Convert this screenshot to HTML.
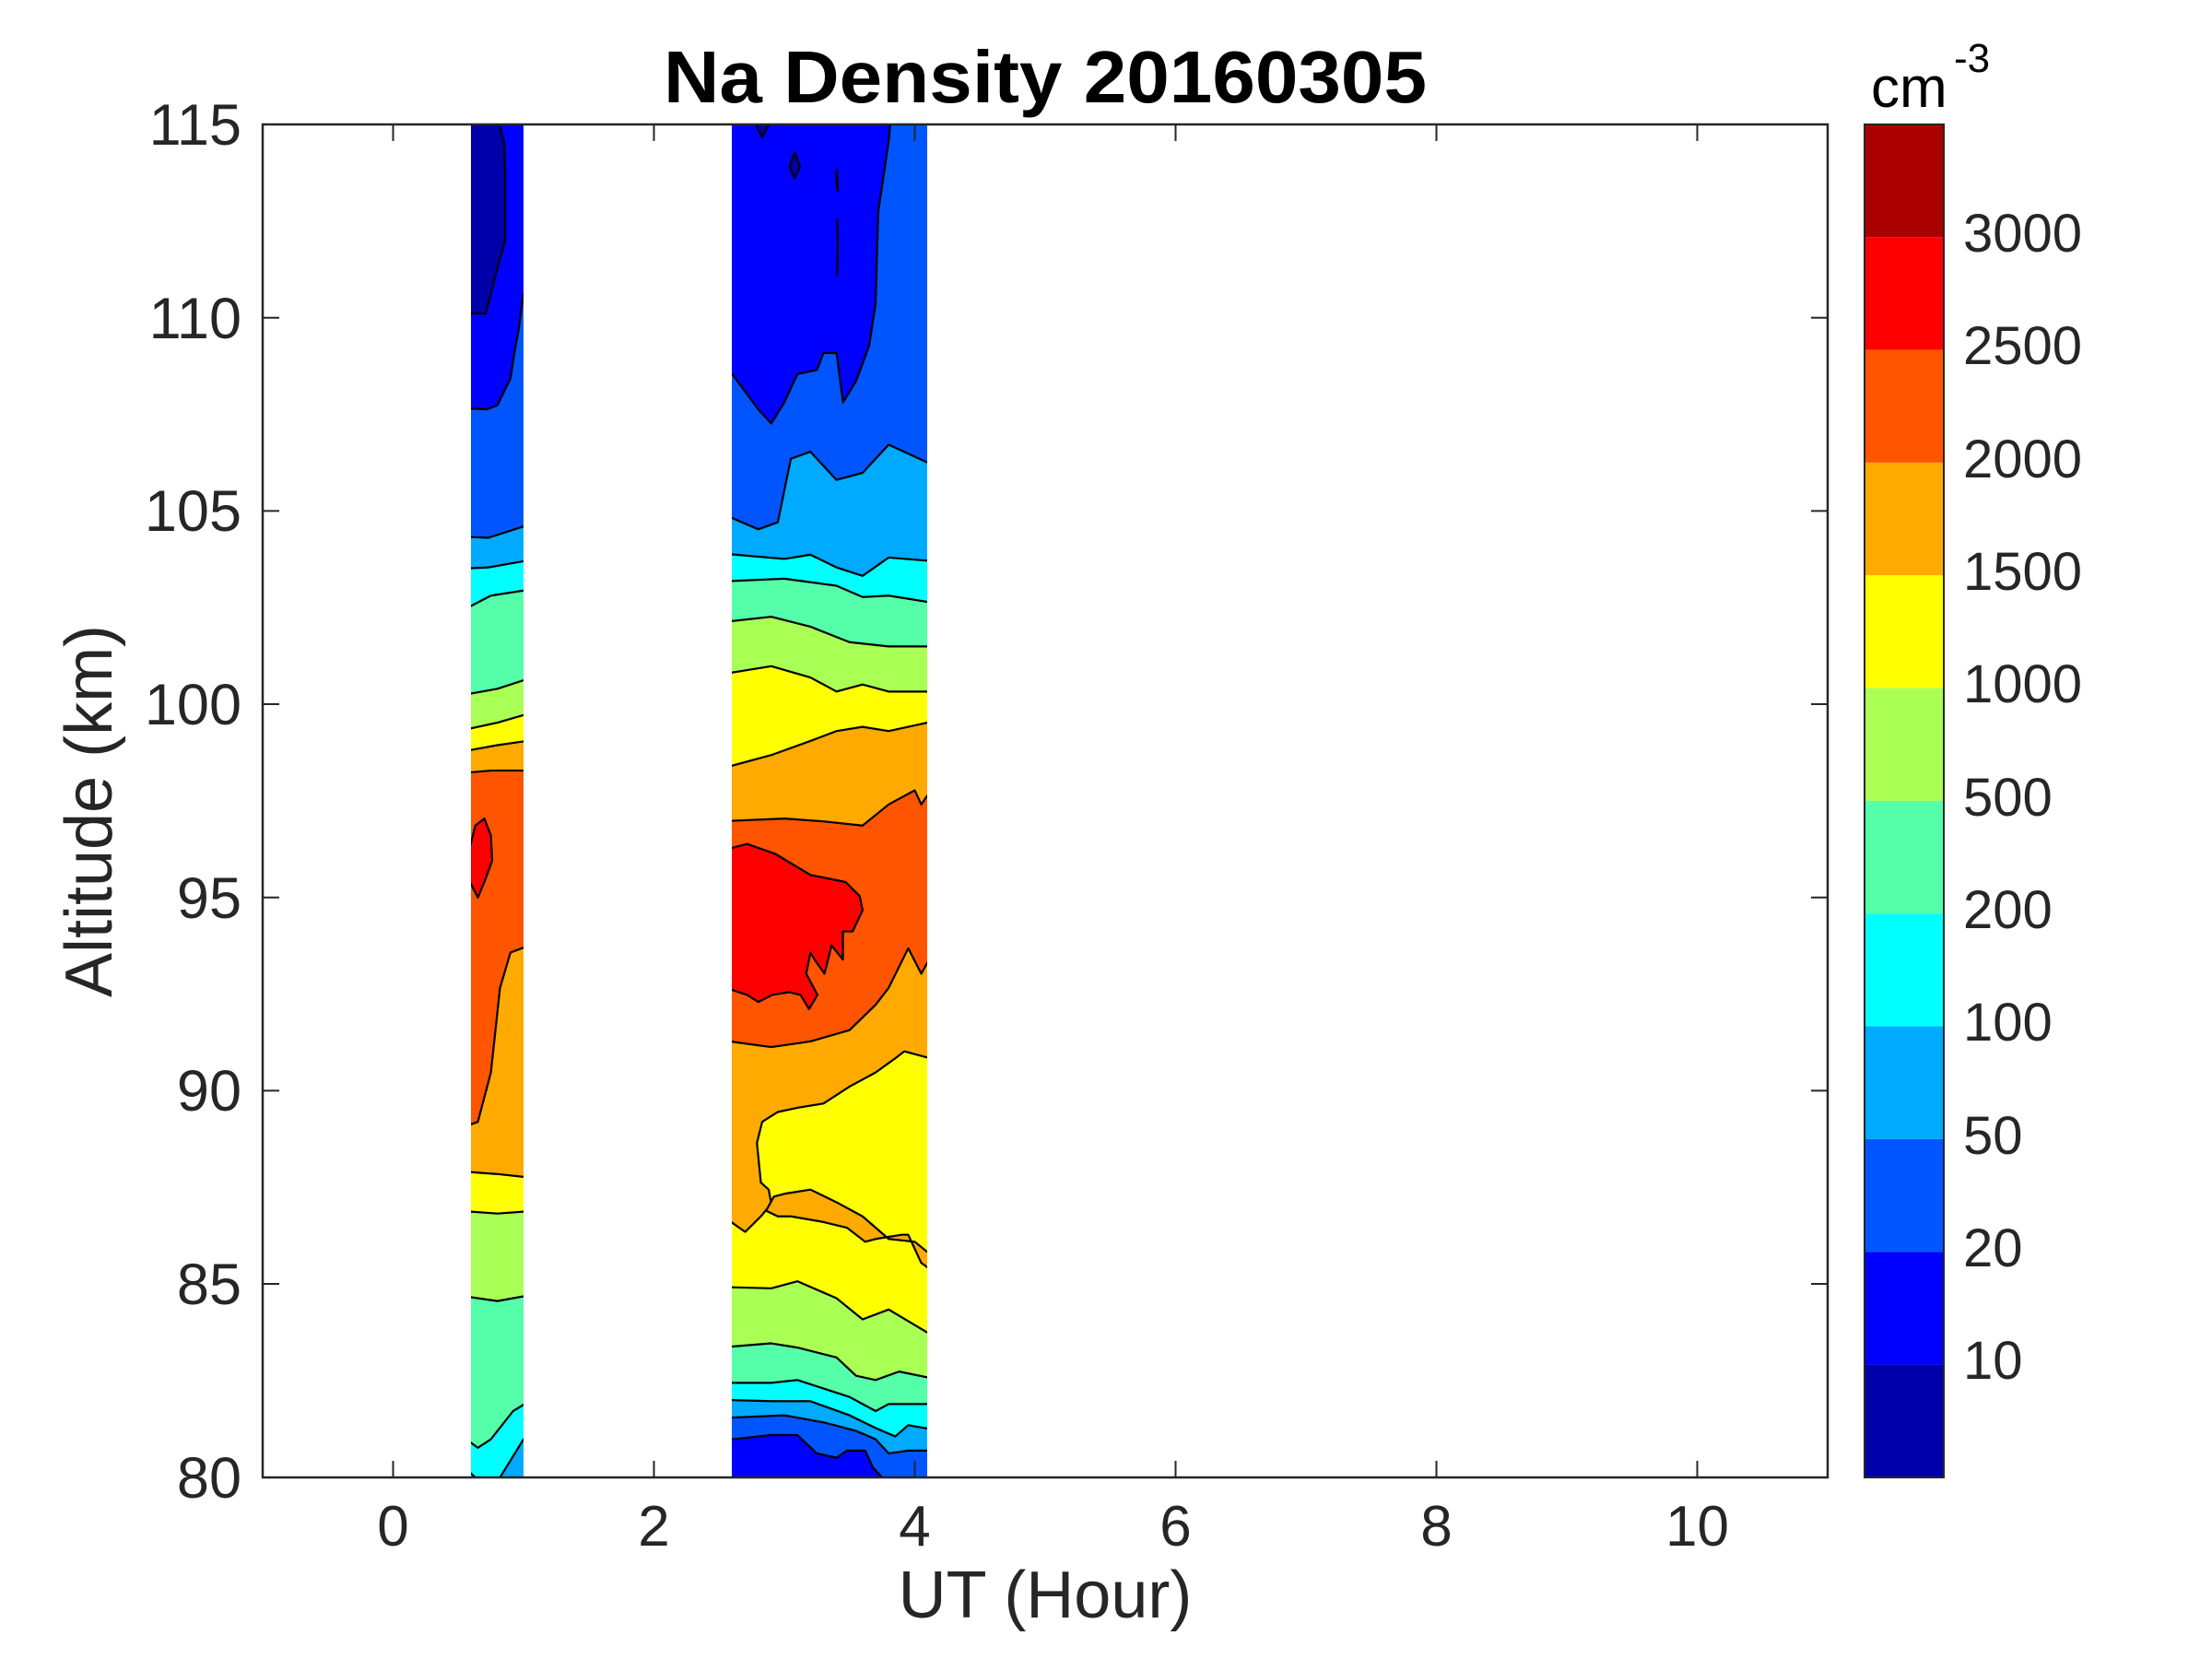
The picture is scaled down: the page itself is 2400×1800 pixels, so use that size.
<!DOCTYPE html>
<html><head><meta charset="utf-8"><style>
html,body{margin:0;padding:0;background:#fff;}
svg{display:block;}
text{font-family:"Liberation Sans",Arial,sans-serif;fill:#262626;}
</style></head><body>
<svg width="2400" height="1800" viewBox="0 0 2400 1800" xmlns="http://www.w3.org/2000/svg">
<defs>
<clipPath id="c1"><rect x="0.597" y="88" width="0.403" height="959"/></clipPath>
<clipPath id="c2"><rect x="2.597" y="88" width="1.498" height="959"/></clipPath>
</defs>
<g transform="matrix(141.5 0 0 1.5307 426.5 0.3)" stroke="#000" stroke-width="2.2" fill="none" stroke-linejoin="round">
<g clip-path="url(#c1)">
<rect x="0.5" y="80" width="0.6" height="1000" fill="#0000AA" stroke="none"/>
<path d="M0.5,222 L0.71,222 L0.8,190 L0.86,170 L0.86,120 L0.85,100 L0.79,80 L1.1,80 L1.1,1060 L0.5,1060Z" fill="#0000FF" stroke="none"/>
<path d="M0.5,222 L0.71,222 L0.8,190 L0.86,170 L0.86,120 L0.85,100 L0.79,80" vector-effect="non-scaling-stroke"/>
<path d="M0.5,289 L0.72,290 L0.8,287 L0.9,268 L0.93,250 L0.96,235 L0.99,215 L1.0,208 L1.1,205 L1.1,1060 L0.5,1060Z" fill="#0055FF" stroke="none"/>
<path d="M0.5,289 L0.72,290 L0.8,287 L0.9,268 L0.93,250 L0.96,235 L0.99,215 L1.0,208" vector-effect="non-scaling-stroke"/>
<path d="M0.5,380 L0.73,381 L1.1,370 L1.1,1060 L0.5,1060Z" fill="#00AAFF" vector-effect="non-scaling-stroke"/>
<path d="M0.5,403 L0.73,402 L1.1,396 L1.1,1060 L0.5,1060Z" fill="#00FFFF" vector-effect="non-scaling-stroke"/>
<path d="M0.5,434 L0.75,422 L1.1,417 L1.1,1060 L0.5,1060Z" fill="#55FFAA" vector-effect="non-scaling-stroke"/>
<path d="M0.5,493 L0.8,488 L1.1,479 L1.1,1060 L0.5,1060Z" fill="#AAFF55" vector-effect="non-scaling-stroke"/>
<path d="M0.5,518 L0.8,512 L1.1,504 L1.1,1060 L0.5,1060Z" fill="#FFFF00" vector-effect="non-scaling-stroke"/>
<path d="M0.5,533 L0.8,528 L1.1,524 L1.1,1060 L0.5,1060Z" fill="#FFAA00" vector-effect="non-scaling-stroke"/>
<path d="M0.5,548 L0.75,546 L1.1,546 L1.1,1060 L0.5,1060Z" fill="#FF5500" vector-effect="non-scaling-stroke"/>
<path d="M0.59,600 L0.63,585 L0.7,580 L0.75,592 L0.76,610 L0.7,625 L0.65,636 L0.59,625Z" fill="#FF0000" vector-effect="non-scaling-stroke"/>
<path d="M0.5,800 L0.65,795 L0.75,760 L0.82,700 L0.9,675 L1.1,668 L1.1,1060 L0.5,1060Z" fill="#FFAA00" vector-effect="non-scaling-stroke"/>
<path d="M0.5,830 L0.8,832 L1.1,835 L1.1,1060 L0.5,1060Z" fill="#FFFF00" vector-effect="non-scaling-stroke"/>
<path d="M0.5,858 L0.8,860 L1.1,858 L1.1,1060 L0.5,1060Z" fill="#AAFF55" vector-effect="non-scaling-stroke"/>
<path d="M0.5,918 L0.8,922 L1.1,917 L1.1,1060 L0.5,1060Z" fill="#55FFAA" vector-effect="non-scaling-stroke"/>
<path d="M0.5,1016 L0.65,1026 L0.75,1020 L0.92,1000 L1.1,990 L1.1,1060 L0.5,1060Z" fill="#00FFFF" vector-effect="non-scaling-stroke"/>
<path d="M0.82,1047 L1.0,1020 L1.1,1015 L1.1,1060Z" fill="#00AAFF" vector-effect="non-scaling-stroke"/>
<path d="M0.5,1036 L0.63,1047 L0.5,1060Z" fill="#00AAFF" vector-effect="non-scaling-stroke"/>
</g>
<g clip-path="url(#c2)">
<rect x="2.5" y="80" width="1.7" height="1000" fill="#0000FF" stroke="none"/>
<path d="M2.78,88 L2.83,97 L2.88,88Z" fill="#0000AA" vector-effect="non-scaling-stroke"/>
<path d="M3.08,108 L3.12,118 L3.08,126 L3.04,118Z" fill="#0000AA" vector-effect="non-scaling-stroke"/>
<path d="M3.40,120 L3.41,135 L3.40,130Z M3.405,155 L3.41,175 L3.405,195" vector-effect="non-scaling-stroke"/>
<path d="M2.5,265 L2.6,265 L2.8,290 L2.9,300 L3.0,285 L3.1,265 L3.25,262 L3.3,250 L3.4,250 L3.45,285 L3.55,270 L3.65,245 L3.7,215 L3.72,150 L3.8,100 L3.82,80 L4.2,80 L4.2,1060 L2.5,1060Z" fill="#0055FF" stroke="none"/>
<path d="M2.6,265 L2.8,290 L2.9,300 L3.0,285 L3.1,265 L3.25,262 L3.3,250 L3.4,250 L3.45,285 L3.55,270 L3.65,245 L3.7,215 L3.72,150 L3.8,100 L3.82,80" vector-effect="non-scaling-stroke"/>
<path d="M2.5,367 L2.6,367 L2.8,375 L2.95,370 L3.05,325 L3.2,320 L3.4,340 L3.6,335 L3.8,315 L4.2,332 L4.2,1060 L2.5,1060Z" fill="#00AAFF" vector-effect="non-scaling-stroke"/>
<path d="M2.5,392 L3.0,396 L3.2,393 L3.4,402 L3.6,408 L3.8,395 L4.2,398 L4.2,1060 L2.5,1060Z" fill="#00FFFF" vector-effect="non-scaling-stroke"/>
<path d="M2.5,412 L3.0,410 L3.4,415 L3.6,423 L3.8,422 L4.2,428 L4.2,1060 L2.5,1060Z" fill="#55FFAA" vector-effect="non-scaling-stroke"/>
<path d="M2.5,441 L2.9,437 L3.2,444 L3.5,455 L3.8,458 L4.2,458 L4.2,1060 L2.5,1060Z" fill="#AAFF55" vector-effect="non-scaling-stroke"/>
<path d="M2.5,478 L2.9,472 L3.2,480 L3.4,490 L3.6,485 L3.8,490 L4.2,490 L4.2,1060 L2.5,1060Z" fill="#FFFF00" vector-effect="non-scaling-stroke"/>
<path d="M2.5,545 L2.9,535 L3.2,525 L3.4,518 L3.6,515 L3.8,518 L4.2,510 L4.2,1060 L2.5,1060Z" fill="#FFAA00" vector-effect="non-scaling-stroke"/>
<path d="M2.5,582 L3.0,580 L3.3,582 L3.6,585 L3.8,570 L4.0,560 L4.05,570 L4.2,550 L4.2,1060 L2.5,1060Z" fill="#FF5500" vector-effect="non-scaling-stroke"/>
<path d="M2.55,602 L2.714,598 L2.93,605 L3.2,620 L3.47,625 L3.578,635 L3.6,645 L3.524,660 L3.449,660 L3.449,680 L3.362,670 L3.308,690 L3.232,680 L3.2,675 L3.168,690 L3.254,705 L3.189,715 L3.124,705 L3.038,703 L2.908,705 L2.8,710 L2.714,705 L2.55,700Z" fill="#FF0000" vector-effect="non-scaling-stroke"/>
<path d="M2.5,737 L2.9,742 L3.2,738 L3.5,730 L3.7,712 L3.8,700 L3.95,672 L4.05,690 L4.2,665 L4.2,1060 L2.5,1060Z" fill="#FFAA00" vector-effect="non-scaling-stroke"/>
<path d="M2.5,860 L2.7,873 L2.82,862 L2.9,853 L2.88,843 L2.82,838 L2.79,810 L2.83,795 L2.95,788 L3.1,785 L3.3,782 L3.5,770 L3.7,760 L3.85,750 L3.92,745 L4.2,752 L4.2,1060 L2.5,1060Z" fill="#FFFF00" vector-effect="non-scaling-stroke"/>
<path d="M2.86,858 L2.92,848 L3.0,846 L3.2,843 L3.4,852 L3.6,862 L3.8,878 L4.0,880 L4.2,895 L4.2,905 L4.05,895 L3.95,875 L3.9,875 L3.7,878 L3.62,880 L3.48,870 L3.3,866 L3.05,862 L2.95,862Z" fill="#FFAA00" vector-effect="non-scaling-stroke"/>
<path d="M2.5,912 L2.9,913 L3.1,908 L3.4,920 L3.6,935 L3.8,928 L4.2,950 L4.2,1060 L2.5,1060Z" fill="#AAFF55" vector-effect="non-scaling-stroke"/>
<path d="M2.5,955 L2.9,952 L3.1,955 L3.4,962 L3.55,975 L3.7,978 L3.88,972 L4.2,978 L4.2,1060 L2.5,1060Z" fill="#55FFAA" vector-effect="non-scaling-stroke"/>
<path d="M2.5,980 L2.9,980 L3.1,978 L3.5,990 L3.7,1000 L3.8,995 L4.2,995 L4.2,1060 L2.5,1060Z" fill="#00FFFF" vector-effect="non-scaling-stroke"/>
<path d="M2.5,992 L2.9,993 L3.2,993 L3.5,1003 L3.7,1012 L3.85,1018 L3.95,1010 L4.2,1014 L4.2,1060 L2.5,1060Z" fill="#00AAFF" vector-effect="non-scaling-stroke"/>
<path d="M2.5,1005 L3.0,1003 L3.3,1008 L3.55,1014 L3.7,1020 L3.8,1030 L3.95,1028 L4.2,1028 L4.2,1060 L2.5,1060Z" fill="#0055FF" vector-effect="non-scaling-stroke"/>
<path d="M2.5,1022 L2.6,1020 L2.9,1017 L3.1,1017 L3.25,1030 L3.4,1033 L3.48,1028 L3.62,1028 L3.68,1040 L3.78,1050 L2.5,1060Z" fill="#0000FF" vector-effect="non-scaling-stroke"/>
</g>
</g>
<!-- axes box -->
<rect x="285" y="135" width="1698" height="1468" fill="none" stroke="#262626" stroke-width="2.5"/>
<g stroke="#262626" stroke-width="2">
<line x1="426.5" y1="1603" x2="426.5" y2="1585"/><line x1="709.5" y1="1603" x2="709.5" y2="1585"/><line x1="992.5" y1="1603" x2="992.5" y2="1585"/><line x1="1275.5" y1="1603" x2="1275.5" y2="1585"/><line x1="1558.5" y1="1603" x2="1558.5" y2="1585"/><line x1="1841.5" y1="1603" x2="1841.5" y2="1585"/>
<line x1="426.5" y1="135" x2="426.5" y2="153"/><line x1="709.5" y1="135" x2="709.5" y2="153"/><line x1="992.5" y1="135" x2="992.5" y2="153"/><line x1="1275.5" y1="135" x2="1275.5" y2="153"/><line x1="1558.5" y1="135" x2="1558.5" y2="153"/><line x1="1841.5" y1="135" x2="1841.5" y2="153"/>
<line x1="285" y1="344.7" x2="303" y2="344.7"/><line x1="285" y1="554.4" x2="303" y2="554.4"/><line x1="285" y1="764" x2="303" y2="764"/><line x1="285" y1="973.7" x2="303" y2="973.7"/><line x1="285" y1="1183.4" x2="303" y2="1183.4"/><line x1="285" y1="1393" x2="303" y2="1393"/>
<line x1="1983" y1="344.7" x2="1965" y2="344.7"/><line x1="1983" y1="554.4" x2="1965" y2="554.4"/><line x1="1983" y1="764" x2="1965" y2="764"/><line x1="1983" y1="973.7" x2="1965" y2="973.7"/><line x1="1983" y1="1183.4" x2="1965" y2="1183.4"/><line x1="1983" y1="1393" x2="1965" y2="1393"/>
</g>
<g font-size="63" text-anchor="end">
<text x="262" y="157">115</text><text x="262" y="367">110</text><text x="262" y="576">105</text><text x="262" y="786">100</text><text x="262" y="996">95</text><text x="262" y="1205">90</text><text x="262" y="1415">85</text><text x="262" y="1625">80</text>
</g>
<g font-size="62" text-anchor="middle">
<text x="426.5" y="1677">0</text><text x="709.5" y="1677">2</text><text x="992.5" y="1677">4</text><text x="1275.5" y="1677">6</text><text x="1558.5" y="1677">8</text><text x="1841.5" y="1677">10</text>
</g>
<text x="1134" y="1755" font-size="72" text-anchor="middle">UT (Hour)</text>
<text transform="translate(121,880) rotate(-90)" font-size="72" text-anchor="middle">Altitude (km)</text>
<text x="1134" y="111" font-size="80" font-weight="bold" text-anchor="middle" style="fill:#000" textLength="828" lengthAdjust="spacingAndGlyphs">Na Density 20160305</text>
<!-- colorbar -->
<g>
<rect x="2023" y="135" width="86" height="122.3" fill="#AA0000"/>
<rect x="2023" y="257.3" width="86" height="122.3" fill="#FF0000"/>
<rect x="2023" y="379.6" width="86" height="122.3" fill="#FF5500"/>
<rect x="2023" y="502" width="86" height="122.3" fill="#FFAA00"/>
<rect x="2023" y="624.3" width="86" height="122.3" fill="#FFFF00"/>
<rect x="2023" y="746.6" width="86" height="122.3" fill="#AAFF55"/>
<rect x="2023" y="869" width="86" height="122.3" fill="#55FFAA"/>
<rect x="2023" y="991.3" width="86" height="122.3" fill="#00FFFF"/>
<rect x="2023" y="1113.6" width="86" height="122.3" fill="#00AAFF"/>
<rect x="2023" y="1236" width="86" height="122.3" fill="#0055FF"/>
<rect x="2023" y="1358.3" width="86" height="122.3" fill="#0000FF"/>
<rect x="2023" y="1480.6" width="86" height="122.4" fill="#0000AA"/>
<rect x="2023" y="135" width="86" height="1468" fill="none" stroke="#262626" stroke-width="2"/>
</g>
<g font-size="58">
<text x="2130" y="273">3000</text><text x="2130" y="395">2500</text><text x="2130" y="518">2000</text><text x="2130" y="640">1500</text><text x="2130" y="762">1000</text><text x="2130" y="885">500</text><text x="2130" y="1007">200</text><text x="2130" y="1129">100</text><text x="2130" y="1252">50</text><text x="2130" y="1374">20</text><text x="2130" y="1496">10</text>
</g>
<text x="2030" y="116" font-size="62" style="fill:#000">cm</text>
<text x="2120" y="78" font-size="44" style="fill:#000">-3</text>
</svg>
</body></html>
